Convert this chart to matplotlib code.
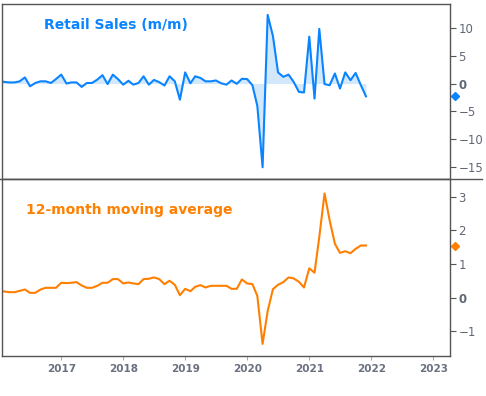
import matplotlib
matplotlib.use("Agg")
import matplotlib.pyplot as plt
import matplotlib.dates as mdates
import matplotlib.transforms as mtransforms
from matplotlib.lines import Line2D
import pandas as pd

months = pd.date_range("2016-01-01", periods=72, freq="MS")

retail_mm = [0.4, 0.3, 0.2, 0.2, 0.4, 1.1, -0.5, 0.1, 0.4, 0.4, 0.1, 0.8,
             1.6, 0.0, 0.2, 0.2, -0.6, 0.1, 0.1, 0.7, 1.5, -0.1, 1.6, 0.8,
             -0.2, 0.5, -0.2, 0.1, 1.3, -0.2, 0.65, 0.25, -0.35, 1.3, 0.4, -2.9,
             2.0, 0.05, 1.3, 1.0, 0.4, 0.4, 0.55, 0.05, -0.2, 0.55, -0.05, 0.85,
             0.8, -0.3, -4.0, -15.0, 12.3, 8.5, 2.0, 1.2, 1.6, 0.3, -1.5, -1.6,
             8.4, -2.7, 9.8, -0.1, -0.3, 1.8, -0.9, 2.0, 0.6, 1.9, -0.3, -2.3]

moving_avg = [0.2, 0.18, 0.16, 0.16, 0.2, 0.24, 0.14, 0.14, 0.24, 0.29, 0.29, 0.29,
              0.44, 0.43, 0.44, 0.46, 0.36, 0.29, 0.29, 0.35, 0.44, 0.44, 0.55, 0.55,
              0.42, 0.45, 0.42, 0.4, 0.55, 0.56, 0.6, 0.55, 0.4, 0.5, 0.38, 0.07,
              0.26, 0.19, 0.32, 0.37, 0.3, 0.35, 0.35, 0.35, 0.35, 0.26, 0.26, 0.54,
              0.42, 0.4, 0.05, -1.38, -0.4, 0.25, 0.38, 0.46, 0.6, 0.57, 0.47, 0.3,
              0.87, 0.74, 1.8, 3.1, 2.3, 1.6, 1.33, 1.38, 1.32, 1.45, 1.55, 1.55]

top_ticks = [10, 5, 0, -5, -10, -15]
bottom_ticks = [3, 2, 1, 0, -1]
year_ticks = [2017, 2018, 2019, 2020, 2021, 2022, 2023]

BLUE = "#0a84ff"
FILL = "#d3e8fb"
ORANGE = "#ff8000"
SPINE = "#555555"
TICKC = "#5f6776"

W, H = 486, 396
fig = plt.figure(figsize=(W / 100, H / 100), dpi=100)
L, R = 2 / W, 450 / W
ax1 = fig.add_axes([L, 1 - 179 / H, R - L, 175 / H])
ax2 = fig.add_axes([L, 1 - 356 / H, R - L, 177 / H])

xmin = pd.Timestamp("2016-01-18")
xmax = pd.Timestamp("2023-04-10")

for ax in (ax1, ax2):
    ax.set_xlim(xmin, xmax)
    ax.yaxis.tick_right()
    ax.yaxis.set_label_position("right")
    for s in ax.spines.values():
        s.set_color(SPINE)
        s.set_linewidth(1.0)
    ax.tick_params(axis="y", direction="out", length=4, width=0.8, color=SPINE,
                   labelsize=8.5, labelcolor=TICKC, pad=2)

# top panel
ax1.fill_between(months, retail_mm, 0, color=FILL, lw=0)
ax1.plot(months, retail_mm, color=BLUE, lw=1.5)
ax1.set_ylim(-17.1, 14.25)
ax1.set_yticks(top_ticks)
ax1.set_xticks([])
ax1.text(0.094, 0.88, "Retail Sales (m/m)", transform=ax1.transAxes, color=BLUE,
         fontsize=10, fontweight="bold", va="center", ha="left")

# bottom panel
ax2.plot(months, moving_avg, color=ORANGE, lw=1.5)
ax2.set_ylim(-1.74, 3.53)
ax2.set_yticks(bottom_ticks)
ax2.set_xticks([pd.Timestamp(f"{y}-01-01") for y in year_ticks])
ax2.set_xticklabels([str(y) for y in year_ticks])
ax2.tick_params(axis="x", direction="out", length=3, width=0.8, color="#aaaaaa",
                labelsize=7.5, labelcolor="#6a7080", pad=3)
for lab in ax2.get_xticklabels():
    lab.set_fontweight("bold")
ax2.text(0.054, 0.825, "12-month moving average", transform=ax2.transAxes,
         color=ORANGE, fontsize=10, fontweight="bold", va="center", ha="left")

for ax in (ax1, ax2):
    for lab in ax.get_yticklabels():
        if lab.get_text() in ("0",):
            lab.set_fontweight("bold")

# last-value diamonds on the right axis
for ax, vals, col in ((ax1, retail_mm, BLUE), (ax2, moving_avg, ORANGE)):
    tr = mtransforms.blended_transform_factory(ax.transAxes, ax.transData)
    ax.plot([1 + 5 / 448], [vals[-1]], marker="D", ms=4, color=col,
            transform=tr, clip_on=False, lw=0)

# divider line extending past the axes
fig.add_artist(Line2D([0, 482 / W], [1 - 179 / H, 1 - 179 / H],
                      transform=fig.transFigure, color=SPINE, lw=1.0))

fig.savefig("out.png", dpi=100)
